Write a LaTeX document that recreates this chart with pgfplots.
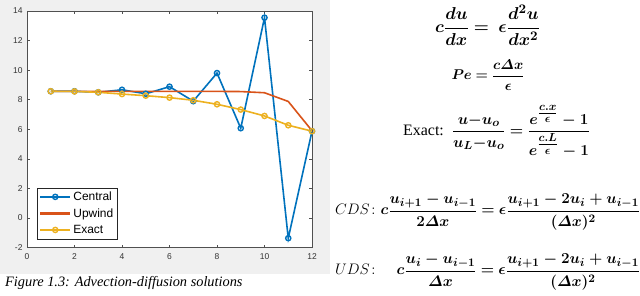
\documentclass[border=0pt]{standalone}
\usepackage{amsmath,bm}
\usepackage{fontspec}
\usepackage{pgfplots}
\pgfplotsset{compat=1.18}
\newfontfamily\arial{Liberation Sans}
\newfontfamily\timesf{Liberation Serif}
\definecolor{mblue}{rgb}{0,0.447,0.741}
\definecolor{upcol}{rgb}{0.85,0.325,0.098}
\definecolor{myellow}{rgb}{0.929,0.694,0.125}
\definecolor{figbg}{HTML}{F0F0F0}
\definecolor{axcol}{HTML}{505050}
\newcommand\eqfont{\fontsize{15}{18}\selectfont}
\newcommand\eqA{\resizebox{105bp}{!}{\eqfont$\bm{c\dfrac{du}{dx} = \;\epsilon\dfrac{d^2u}{dx^2}}$}}
\newcommand\eqB{\resizebox{73bp}{!}{\eqfont$\bm{Pe = \dfrac{c\varDelta x}{\epsilon}}$}}
\newcommand\eqC{\resizebox{187bp}{!}{\eqfont{\timesf Exact:}\enspace$\bm{\dfrac{u{-}u_o}{u_L{-}u_o} = \dfrac{e^{\genfrac{}{}{}{1}{c.x}{\epsilon}}-1}{e^{\genfrac{}{}{}{1}{c.L}{\epsilon}}-1}}$}}
\newcommand\eqD{\resizebox{305bp}{!}{\eqfont$CDS\colon\bm{c\dfrac{u_{i+1}-u_{i-1}}{2\varDelta x} = \epsilon\dfrac{u_{i+1}-2u_i+u_{i-1}}{(\varDelta x)^2}}$}}
\newcommand\eqE{\resizebox{305bp}{!}{\eqfont$UDS\colon\quad\bm{c\dfrac{u_i-u_{i-1}}{\varDelta x} = \epsilon\dfrac{u_{i+1}-2u_i+u_{i-1}}{(\varDelta x)^2}}$}}
\begin{document}
\begin{tikzpicture}[x=1bp,y=1bp]
\useasboundingbox (0,0) rectangle (640,295);
\fill[figbg] (0,21) rectangle (330,295);
\begin{axis}[
  at={(27bp,47.5bp)}, anchor=south west,
  scale only axis, width=285bp, height=236.5bp,
  xmin=0, xmax=12, ymin=-2, ymax=14,
  xtick={0,2,...,12}, ytick={-2,0,...,14},
  tick align=inside, major tick length=3bp,
  axis line style={draw=axcol, line width=0.6bp},
  every tick/.style={draw=axcol, line width=0.6bp},
  axis background/.style={fill=white},
  /pgf/number format/assume math mode=true,
  ticklabel style={font=\arial\fontsize{8.5}{10}\selectfont, text=black!80},
  xticklabel style={yshift=-3bp},
  yticklabel style={xshift=-1bp},
  legend style={at={(0.035,0.036)}, anchor=south west, draw=black!85,
    fill=white, font=\arial\fontsize{12}{14}\selectfont, row sep=2.5bp, inner sep=2bp},
  legend cell align=left,
]
\addplot[forget plot, color=mblue, line width=1.6bp, mark=o, mark size=2.6bp, mark options={line width=1.4bp}] coordinates {
(1,8.57)(2,8.57)(3,8.5)(4,8.67)(5,8.4)(6,8.88)(7,7.9)(8,9.8)(9,6.07)(10,13.55)(11,-1.37)(12,5.87)};
\addplot[forget plot, color=upcol, line width=1.6bp, mark=none] coordinates {
(1,8.56)(2,8.56)(3,8.56)(4,8.56)(5,8.56)(6,8.56)(7,8.56)(8,8.56)(9,8.55)(10,8.47)(11,7.88)(12,5.9)};
\addplot[forget plot, color=myellow, line width=1.6bp, mark=o, mark size=2.6bp, mark options={line width=1.4bp}] coordinates {
(1,8.57)(2,8.56)(3,8.5)(4,8.38)(5,8.27)(6,8.14)(7,7.96)(8,7.69)(9,7.33)(10,6.9)(11,6.27)(12,5.87)};
\addlegendimage{legend image code/.code={\draw[color=mblue, line width=1.9bp, mark=o, mark size=2.6bp, mark options={line width=1.4bp}, mark repeat=2, mark phase=2] plot coordinates {(0bp,0bp)(15bp,0bp)(30bp,0bp)};}}
\addlegendimage{legend image code/.code={\draw[color=upcol, line width=2.2bp, mark=none] plot coordinates {(0bp,0bp)(15bp,0bp)(30bp,0bp)};}}
\addlegendimage{legend image code/.code={\draw[color=myellow, line width=1.9bp, mark=o, mark size=2.6bp, mark options={line width=1.4bp}, mark repeat=2, mark phase=2] plot coordinates {(0bp,0bp)(15bp,0bp)(30bp,0bp)};}}
\legend{Central,Upwind,Exact}
\end{axis}
\node[anchor=base west, inner sep=0pt] at (5,9) {\timesf\itshape\fontsize{14.4}{17}\selectfont Figure 1.3: Advection-diffusion solutions};
\node[inner sep=0pt] at (487.5,270) {\eqA};
\node[inner sep=0pt] at (488,220) {\eqB};
\node[anchor=west, inner sep=0pt] at (403,163.5) {\eqC};
\node[anchor=west, inner sep=0pt] at (335,83) {\eqD};
\node[anchor=west, inner sep=0pt] at (335,23) {\eqE};
\end{tikzpicture}
\end{document}
